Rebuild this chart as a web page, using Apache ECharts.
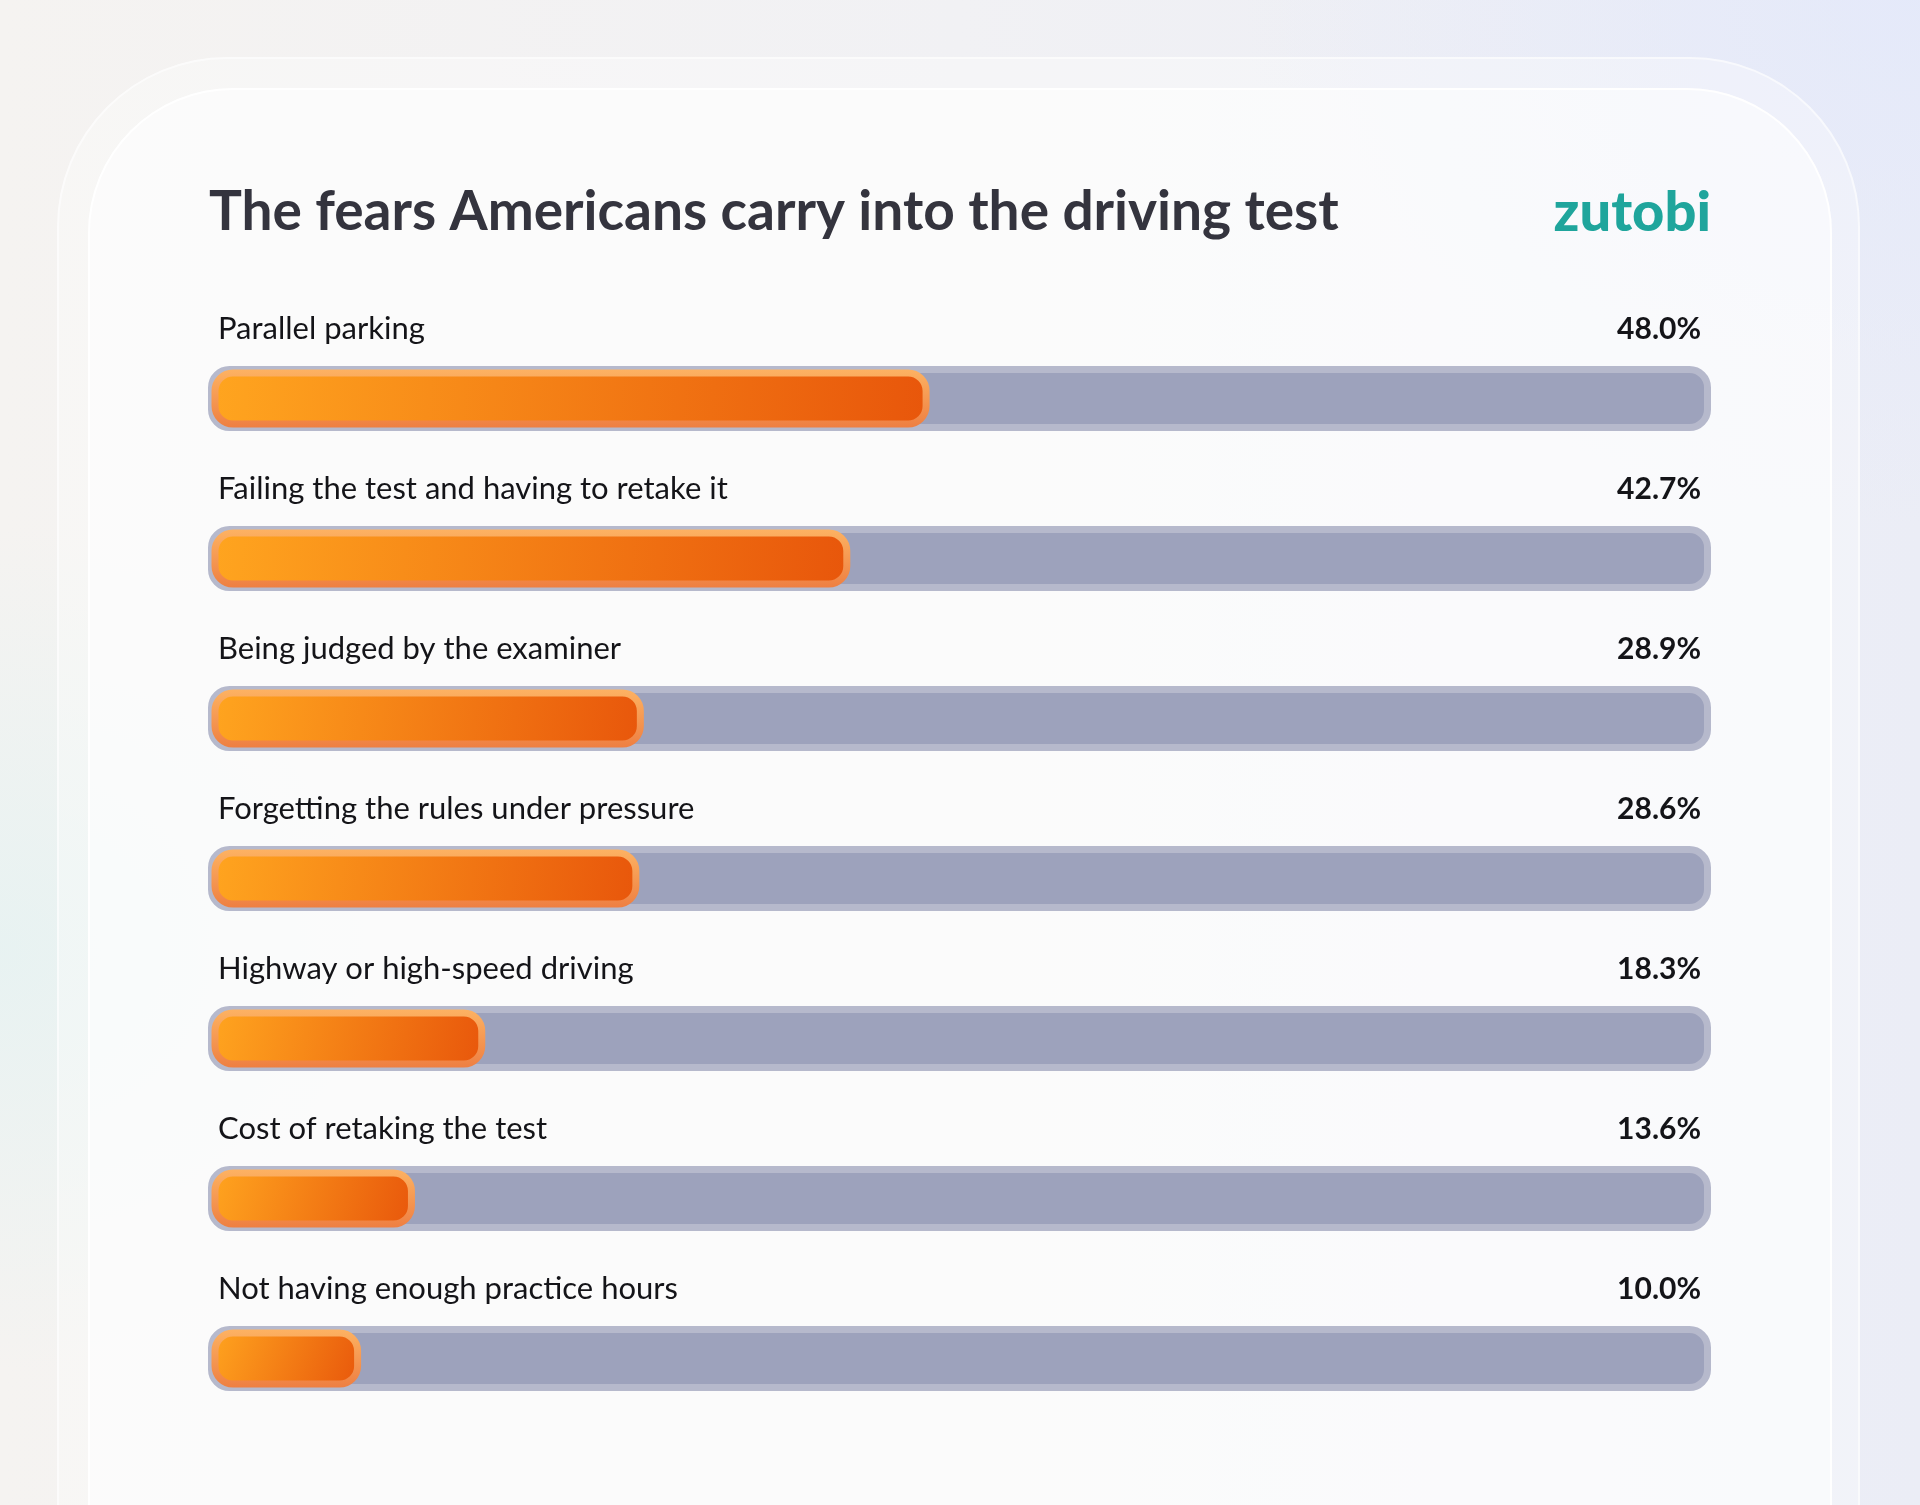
<!DOCTYPE html>
<html>
<head>
<meta charset="utf-8">
<script src="https://cdn.jsdelivr.net/npm/echarts@6/dist/echarts.min.js"></script>
<style>
  html, body { margin: 0; padding: 0; width: 1920px; height: 1505px; overflow: hidden; }
  body {
    background:
      radial-gradient(ellipse 700px 600px at 0px 950px, rgba(226,242,242,0.7), rgba(226,242,242,0) 70%),
      radial-gradient(ellipse 900px 700px at 1920px 0px, rgba(228,233,250,0.9), rgba(228,233,250,0) 75%),
      linear-gradient(90deg, #f5f3f1 0%, #f1f1f4 50%, #ebedf6 100%);
    position: relative;
  }
  #band {
    position: absolute; left: 57px; top: 57px; width: 1803px; height: 1700px;
    border-radius: 170px; background: rgba(255,255,255,0.32);
    box-shadow: inset 0 0 0 2px rgba(255,255,255,0.55);
  }
  #card {
    position: absolute; left: 88px; top: 88px; width: 1744px; height: 1700px;
    border-radius: 145px; background: rgba(255,255,255,0.55);
    box-shadow: inset 0 0 0 2px rgba(255,255,255,0.9);
  }
  #chart { position: absolute; left: 0; top: 0; width: 1920px; height: 1505px; }
</style>
</head>
<body>
<div id="band"></div>
<div id="card"></div>
<div id="chart"></div>
<script>
const titleText = 'The fears Americans carry into the driving test';
const brandText = 'zutobi';
const categories = [
  'Parallel parking',
  'Failing the test and having to retake it',
  'Being judged by the examiner',
  'Forgetting the rules under pressure',
  'Highway or high-speed driving',
  'Cost of retaking the test',
  'Not having enough practice hours'
];
const values = [48.0, 42.7, 28.9, 28.6, 18.3, 13.6, 10.0];

const chart = echarts.init(document.getElementById('chart'), null, { renderer: 'canvas' });

const labelCommon = {
  inside: true,
  margin: 6.5,
  verticalAlign: 'bottom',
  padding: [0, 0, 54, 0],
  fontFamily: 'Lato',
  color: '#141418'
};

chart.setOption({
  backgroundColor: 'transparent',
  animation: false,
  title: [
    {
      text: titleText,
      left: 209, top: 185, padding: 0,
      textStyle: { fontFamily: 'Lato', fontWeight: 'bold', fontSize: 55, color: '#34343e' }
    },
    {
      text: brandText,
      right: 209, top: 185, padding: 0,
      textStyle: { fontFamily: 'Lato', fontWeight: 900, fontSize: 56, color: '#1fa59c' }
    }
  ],
  grid: { left: 211.5, right: 212.5, top: 318.5, height: 1120, containLabel: false },
  xAxis: {
    type: 'value', min: 0, max: 100,
    axisLine: { show: false }, axisTick: { show: false },
    axisLabel: { show: false }, splitLine: { show: false }
  },
  yAxis: [
    {
      type: 'category', data: categories, inverse: true, position: 'left',
      axisLine: { show: false }, axisTick: { show: false },
      axisLabel: Object.assign({}, labelCommon, { fontSize: 31, fontWeight: 'normal' })
    },
    {
      type: 'category', data: categories, inverse: true, position: 'right',
      axisLine: { show: false }, axisTick: { show: false },
      axisLabel: Object.assign({}, labelCommon, {
        fontSize: 30, fontWeight: 'bold',
        formatter: (v, i) => values[i].toFixed(1) + '%'
      })
    }
  ],
  series: [{
    type: 'bar',
    yAxisIndex: 0,
    data: values,
    barWidth: 58,
    silent: true,
    showBackground: true,
    backgroundStyle: {
      color: '#9da2bc',
      borderColor: '#b6b9cc',
      borderWidth: 7,
      borderRadius: 18
    },
    itemStyle: {
      color: new echarts.graphic.LinearGradient(0, 0, 1, 1, [
        { offset: 0, color: '#ffa51f' },
        { offset: 1, color: '#e8560b' }
      ]),
      borderColor: new echarts.graphic.LinearGradient(0, 0, 0, 1, [
        { offset: 0, color: '#fdb262' },
        { offset: 1, color: '#ee7f42' }
      ]),
      borderWidth: 7,
      borderRadius: 18
    }
  }]
});
</script>
</body>
</html>
